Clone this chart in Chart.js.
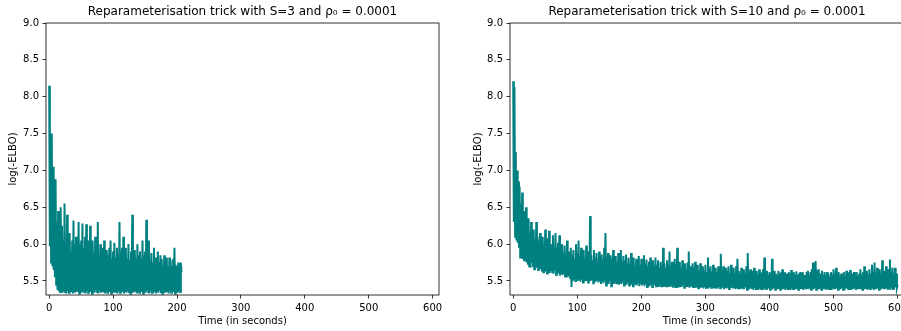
<!DOCTYPE html>
<html>
<head>
<meta charset="utf-8">
<script src="https://cdn.jsdelivr.net/npm/chart.js@4.4.0/dist/chart.umd.min.js"></script>
<style>
  html, body { margin: 0; padding: 0; background: #fff; overflow: hidden; width: 901px; height: 331px; }
  canvas { position: absolute; top: 0; }
  #c1 { left: 0; }
  #c2 { left: 450px; }
</style>
</head>
<body>
<canvas id="c1" width="450" height="331"></canvas>
<canvas id="c2" width="470" height="331"></canvas>
<script>
// ---- data ----
const titleS3 = "Reparameterisation trick with S=3 and ρ₀ = 0.0001";
const titleS10 = "Reparameterisation trick with S=10 and ρ₀ = 0.0001";
const xLabel = "Time (in seconds)";
const yLabel = "log(-ELBO)";
const xTicks = [0, 100, 200, 300, 400, 500, 600];
const yTicks = [5.5, 6.0, 6.5, 7.0, 7.5, 8.0, 8.5, 9.0];

// S=3 run: one sample per second, 0 .. 207 s
const s3Step = 1;
const s3Values = [
  8.15, 5.97, 7.45, 5.75, 7.50, 5.70, 7.05, 5.65, 6.80, 5.55, 6.88, 5.45, 6.30, 5.38, 6.45, 5.36, 6.10, 5.35, 6.50, 5.37,
  6.25, 5.34, 6.05, 5.36, 6.55, 5.35, 6.00, 5.33, 6.40, 5.36, 5.95, 5.34, 6.15, 5.37, 5.90, 5.35, 6.05, 5.33, 6.32, 5.36,
  6.00, 5.34, 6.10, 5.36, 5.92, 5.35, 6.30, 5.33, 6.00, 5.36, 6.05, 5.34, 6.28, 5.37, 5.95, 5.35, 6.10, 5.33, 6.27, 5.36,
  5.95, 5.34, 6.05, 5.36, 6.25, 5.35, 5.90, 5.33, 6.05, 5.36, 5.88, 5.34, 6.10, 5.37, 5.95, 5.35, 6.30, 5.33, 5.85, 5.36,
  6.00, 5.34, 5.82, 5.36, 5.95, 5.35, 6.05, 5.33, 5.78, 5.36, 5.92, 5.34, 5.85, 5.37, 5.95, 5.35, 6.05, 5.33, 5.80, 5.36,
  5.90, 5.34, 6.02, 5.36, 5.82, 5.35, 5.95, 5.33, 5.85, 5.36, 6.30, 5.34, 5.90, 5.37, 5.95, 5.35, 6.10, 5.33, 5.82, 5.36,
  5.95, 5.34, 5.80, 5.36, 6.00, 5.35, 5.78, 5.33, 5.90, 5.36, 6.40, 5.34, 5.85, 5.37, 5.92, 5.35, 5.80, 5.33, 6.00, 5.36,
  5.85, 5.34, 5.90, 5.36, 5.80, 5.35, 6.05, 5.33, 5.85, 5.36, 5.90, 5.34, 6.33, 5.37, 5.80, 5.35, 6.05, 5.33, 5.78, 5.36,
  5.88, 5.34, 5.75, 5.36, 5.95, 5.35, 5.82, 5.33, 5.78, 5.36, 5.90, 5.34, 5.75, 5.37, 5.85, 5.35, 5.80, 5.33, 5.72, 5.36,
  5.85, 5.34, 5.75, 5.36, 5.82, 5.35, 5.70, 5.33, 5.82, 5.36, 5.78, 5.34, 5.70, 5.37, 5.80, 5.35, 5.95, 5.33, 5.72, 5.36,
  5.70, 5.34, 5.75, 5.36, 5.68, 5.35, 5.75, 5.62
];

// S=10 run: one sample per second, 0 .. 600 s
const s10Step = 1;
const s10Values = [
  8.21, 6.30, 8.13, 6.10, 7.25, 6.05, 7.00, 6.02, 6.85, 5.95, 6.78, 5.82, 6.55, 5.85, 6.70, 5.80, 6.40, 5.78, 6.45, 5.85,
  6.50, 5.75, 6.20, 5.72, 6.35, 5.70, 6.15, 5.68, 6.30, 5.75, 6.10, 5.70, 6.20, 5.66, 6.05, 5.72, 6.30, 5.68, 6.10, 5.65,
  6.05, 5.70, 6.15, 5.66, 5.98, 5.64, 6.10, 5.62, 6.00, 5.66, 6.20, 5.63, 5.95, 5.60, 6.08, 5.64, 6.18, 5.61, 5.95, 5.65,
  6.00, 5.62, 6.12, 5.60, 5.92, 5.64, 6.15, 5.58, 5.95, 5.62, 6.02, 5.60, 6.12, 5.57, 5.90, 5.61, 6.00, 5.58, 5.88, 5.60,
  5.98, 5.56, 5.85, 5.59, 6.05, 5.55, 5.90, 5.57, 5.82, 5.54, 5.95, 5.42, 5.85, 5.50, 5.92, 5.53, 5.80, 5.50, 6.00, 5.52,
  5.88, 5.50, 6.05, 5.53, 5.82, 5.49, 5.95, 5.52, 5.85, 5.48, 5.92, 5.51, 5.80, 5.55, 5.98, 5.50, 5.84, 5.48, 5.90, 5.52,
  6.38, 5.50, 5.85, 5.53, 5.78, 5.47, 5.92, 5.51, 5.82, 5.49, 5.88, 5.52, 5.76, 5.48, 5.90, 5.50, 5.80, 5.46, 5.86, 5.50,
  5.78, 5.47, 5.95, 5.50, 6.15, 5.44, 5.82, 5.49, 5.88, 5.46, 5.76, 5.50, 5.85, 5.43, 5.80, 5.48, 5.92, 5.46, 5.78, 5.49,
  5.84, 5.47, 5.75, 5.50, 5.88, 5.45, 5.80, 5.48, 5.92, 5.46, 5.76, 5.49, 5.84, 5.44, 5.78, 5.47, 5.86, 5.45, 5.74, 5.48,
  5.82, 5.44, 5.72, 5.47, 5.88, 5.45, 5.76, 5.43, 5.82, 5.47, 5.70, 5.45, 5.80, 5.44, 5.74, 5.48, 5.84, 5.43, 5.72, 5.46,
  5.80, 5.44, 5.70, 5.47, 5.85, 5.43, 5.74, 5.46, 5.79, 5.42, 5.70, 5.45, 5.76, 5.43, 5.82, 5.46, 5.72, 5.42, 5.78, 5.44,
  5.70, 5.45, 5.82, 5.43, 5.72, 5.46, 5.78, 5.42, 5.68, 5.44, 5.76, 5.43, 5.70, 5.45, 5.95, 5.42, 5.74, 5.44, 5.68, 5.43,
  5.78, 5.45, 5.72, 5.42, 5.90, 5.44, 5.70, 5.43, 5.76, 5.41, 5.68, 5.44, 5.80, 5.42, 5.72, 5.45, 5.95, 5.41, 5.70, 5.43,
  5.76, 5.44, 5.68, 5.42, 5.78, 5.45, 5.70, 5.41, 5.74, 5.43, 5.66, 5.42, 5.75, 5.44, 5.90, 5.41, 5.70, 5.43, 5.65, 5.42,
  5.74, 5.42, 5.68, 5.44, 5.76, 5.41, 5.66, 5.43, 5.72, 5.40, 5.64, 5.42, 5.74, 5.41, 5.68, 5.43, 5.70, 5.40, 5.64, 5.42,
  5.72, 5.41, 5.62, 5.43, 5.82, 5.40, 5.66, 5.42, 5.70, 5.41, 5.62, 5.43, 5.72, 5.40, 5.65, 5.42, 5.68, 5.41, 5.62, 5.40,
  5.70, 5.42, 5.64, 5.40, 5.87, 5.42, 5.64, 5.41, 5.70, 5.39, 5.62, 5.42, 5.68, 5.40, 5.64, 5.41, 5.70, 5.39, 5.60, 5.42,
  5.72, 5.41, 5.62, 5.40, 5.68, 5.42, 5.60, 5.39, 5.70, 5.41, 5.80, 5.40, 5.64, 5.42, 5.60, 5.39, 5.68, 5.41, 5.62, 5.40,
  5.66, 5.40, 5.60, 5.42, 5.70, 5.38, 5.88, 5.41, 5.62, 5.39, 5.66, 5.41, 5.58, 5.40, 5.64, 5.38, 5.68, 5.41, 5.60, 5.39,
  5.64, 5.41, 5.58, 5.38, 5.66, 5.40, 5.62, 5.39, 5.60, 5.41, 5.66, 5.38, 5.82, 5.40, 5.60, 5.39, 5.64, 5.41, 5.58, 5.40,
  5.62, 5.38, 5.60, 5.40, 5.80, 5.39, 5.58, 5.41, 5.64, 5.38, 5.60, 5.40, 5.58, 5.39, 5.64, 5.41, 5.60, 5.38, 5.62, 5.40,
  5.66, 5.39, 5.58, 5.41, 5.62, 5.38, 5.60, 5.40, 5.56, 5.39, 5.62, 5.41, 5.60, 5.38, 5.65, 5.40, 5.58, 5.39, 5.62, 5.41,
  5.58, 5.39, 5.63, 5.41, 5.58, 5.38, 5.60, 5.40, 5.62, 5.39, 5.56, 5.41, 5.62, 5.38, 5.58, 5.40, 5.57, 5.39, 5.62, 5.41,
  5.64, 5.39, 5.58, 5.41, 5.62, 5.38, 5.66, 5.40, 5.75, 5.39, 5.62, 5.41, 5.77, 5.38, 5.64, 5.40, 5.66, 5.39, 5.60, 5.41,
  5.60, 5.38, 5.64, 5.40, 5.58, 5.39, 5.62, 5.41, 5.58, 5.38, 5.62, 5.40, 5.60, 5.39, 5.56, 5.41, 5.62, 5.38, 5.58, 5.40,
  5.66, 5.40, 5.60, 5.39, 5.68, 5.41, 5.58, 5.38, 5.62, 5.40, 5.56, 5.39, 5.60, 5.41, 5.58, 5.38, 5.62, 5.37, 5.56, 5.40,
  5.64, 5.40, 5.58, 5.39, 5.62, 5.41, 5.65, 5.38, 5.57, 5.40, 5.60, 5.39, 5.62, 5.41, 5.58, 5.38, 5.62, 5.40, 5.56, 5.39,
  5.60, 5.39, 5.66, 5.41, 5.58, 5.38, 5.62, 5.40, 5.70, 5.39, 5.60, 5.41, 5.64, 5.38, 5.58, 5.40, 5.66, 5.39, 5.60, 5.41,
  5.72, 5.41, 5.62, 5.38, 5.75, 5.40, 5.60, 5.39, 5.68, 5.41, 5.62, 5.38, 5.66, 5.40, 5.60, 5.39, 5.78, 5.41, 5.62, 5.40,
  5.64, 5.39, 5.70, 5.41, 5.60, 5.38, 5.66, 5.40, 5.79, 5.38, 5.62, 5.41, 5.68, 5.39, 5.60, 5.40, 5.68, 5.42, 5.60, 5.41,
  5.45
];

const xMin = -5, xMax = 610;
const yMin = 5.31, yMax = 9.0;
const lineColor = '#008080';

// ---- chart setup ----
Chart.defaults.font.family = "'DejaVu Sans', sans-serif";
Chart.defaults.font.size = 10;
Chart.defaults.color = '#000';

const frame = {
  id: 'frame',
  afterDraw(chart) {
    const {ctx, chartArea: a} = chart;
    ctx.save();
    ctx.strokeStyle = '#000';
    ctx.lineWidth = 0.8;
    ctx.strokeRect(a.left, a.top, a.right - a.left, a.bottom - a.top);
    ctx.restore();
  }
};

function makeChart(id, title, values, step, pad, yTitlePad) {
  const pts = values.map((v, i) => ({x: i * step, y: v}));
  return new Chart(document.getElementById(id), {
    type: 'line',
    data: { datasets: [{ data: pts, borderColor: lineColor, borderWidth: 2,
      pointRadius: 0, tension: 0, fill: false }] },
    options: {
      responsive: false, animation: false, devicePixelRatio: 1,
      layout: { padding: pad },
      plugins: {
        legend: { display: false }, tooltip: { enabled: false },
        title: { display: true, text: title, fullSize: false, color: '#000',
          font: { size: 12, weight: 'normal' }, padding: { top: 5, bottom: 3.6 } }
      },
      scales: {
        x: {
          type: 'linear', min: xMin, max: xMax,
          afterBuildTicks: s => { s.ticks = xTicks.map(v => ({value: v})); },
          afterFit: s => { s.height = 36; },
          ticks: { padding: 3.5, maxRotation: 0, autoSkip: false, color: '#000',
            callback: v => String(v) },
          grid: { drawOnChartArea: false, drawTicks: true, tickLength: 3.5, color: '#000', lineWidth: 0.8 },
          border: { display: false },
          title: { display: true, text: xLabel, color: '#000', padding: { top: 0, bottom: 4 } }
        },
        y: {
          type: 'linear', min: yMin, max: yMax,
          afterBuildTicks: s => { s.ticks = yTicks.map(v => ({value: v})); },
          afterFit: s => { s.width = 46; },
          ticks: { padding: 3.5, autoSkip: false, color: '#000', callback: v => v.toFixed(1) },
          grid: { drawOnChartArea: false, drawTicks: true, tickLength: 3.5, color: '#000', lineWidth: 0.8 },
          border: { display: false },
          title: { display: true, text: yLabel, color: '#000', padding: { top: yTitlePad, bottom: 0 } }
        }
      }
    },
    plugins: [frame]
  });
}

makeChart('c1', titleS3, s3Values, s3Step, {left: 0, right: 11, top: 0, bottom: 0}, 7);
makeChart('c2', titleS10, s10Values, s10Step, {left: 14, right: 16, top: 0, bottom: 0}, 8);
</script>
</body>
</html>
